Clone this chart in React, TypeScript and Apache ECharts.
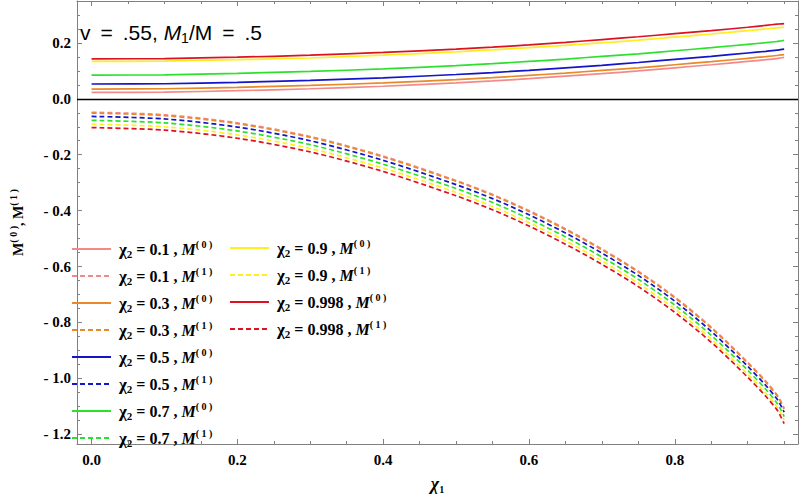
import React, { useEffect, useRef } from "react";
import * as echarts from "echarts";

// x values (chi_1)
const chi1 = [0, 0.1, 0.2, 0.3, 0.4, 0.5, 0.55, 0.6, 0.65, 0.7, 0.75, 0.8, 0.85, 0.9, 0.925, 0.94, 0.945, 0.95];

const chi2Labels = ["0.1", "0.3", "0.5", "0.7", "0.9", "0.998"];
const colors = ["#F28A8A", "#E8892A", "#1414C8", "#2EE02E", "#FFEE22", "#DD1122"];

// M^(0) (solid)
const m0_01 = [0.023, 0.024, 0.029, 0.036, 0.045, 0.057, 0.064, 0.072, 0.081, 0.090, 0.100, 0.111, 0.122, 0.134, 0.140, 0.144, 0.146, 0.148];
const m0_03 = [0.035, 0.036, 0.041, 0.048, 0.057, 0.069, 0.076, 0.084, 0.092, 0.102, 0.111, 0.122, 0.133, 0.145, 0.151, 0.155, 0.157, 0.158];
const m0_05 = [0.053, 0.054, 0.059, 0.066, 0.075, 0.087, 0.094, 0.102, 0.111, 0.120, 0.130, 0.141, 0.152, 0.164, 0.170, 0.174, 0.176, 0.178];
const m0_07 = [0.085, 0.086, 0.091, 0.098, 0.107, 0.119, 0.126, 0.134, 0.142, 0.152, 0.161, 0.172, 0.183, 0.195, 0.201, 0.205, 0.207, 0.209];
const m0_09 = [0.134, 0.135, 0.140, 0.146, 0.156, 0.168, 0.175, 0.183, 0.191, 0.200, 0.210, 0.221, 0.232, 0.244, 0.250, 0.254, 0.255, 0.256];
const m0_0998 = [0.143, 0.144, 0.149, 0.156, 0.166, 0.178, 0.185, 0.193, 0.202, 0.212, 0.222, 0.233, 0.244, 0.256, 0.263, 0.267, 0.268, 0.269];

// M^(1) (dashed)
const m1_01 = [-0.048, -0.057, -0.086, -0.135, -0.205, -0.292, -0.342, -0.400, -0.465, -0.537, -0.617, -0.709, -0.817, -0.942, -1.011, -1.058, -1.080, -1.107];
const m1_03 = [-0.051, -0.060, -0.089, -0.138, -0.208, -0.295, -0.345, -0.403, -0.468, -0.540, -0.620, -0.712, -0.820, -0.945, -1.014, -1.061, -1.083, -1.110];
const m1_05 = [-0.063, -0.072, -0.101, -0.150, -0.220, -0.307, -0.357, -0.415, -0.480, -0.552, -0.632, -0.724, -0.832, -0.957, -1.026, -1.073, -1.095, -1.121];
const m1_07 = [-0.077, -0.086, -0.115, -0.164, -0.234, -0.321, -0.371, -0.429, -0.494, -0.566, -0.646, -0.738, -0.846, -0.971, -1.040, -1.088, -1.110, -1.137];
const m1_09 = [-0.091, -0.100, -0.129, -0.178, -0.248, -0.335, -0.385, -0.443, -0.508, -0.580, -0.660, -0.752, -0.860, -0.985, -1.054, -1.101, -1.123, -1.150];
const m1_0998 = [-0.103, -0.112, -0.141, -0.190, -0.260, -0.347, -0.397, -0.455, -0.520, -0.592, -0.672, -0.764, -0.871, -0.996, -1.065, -1.112, -1.135, -1.162];

const m0Sets = [m0_01, m0_03, m0_05, m0_07, m0_09, m0_0998];
const m1Sets = [m1_01, m1_03, m1_05, m1_07, m1_09, m1_0998];

// ticks
const xMajor = [0, 0.2, 0.4, 0.6, 0.8];
const xMinor = [0.05, 0.1, 0.15, 0.25, 0.3, 0.35, 0.45, 0.5, 0.55, 0.65, 0.7, 0.75, 0.85, 0.9, 0.95];
const yMajor = [-1.2, -1.0, -0.8, -0.6, -0.4, -0.2, 0, 0.2];
const yMinor = [-1.15, -1.1, -1.05, -0.95, -0.9, -0.85, -0.75, -0.7, -0.65, -0.55, -0.5, -0.45, -0.35, -0.3, -0.25, -0.15, -0.1, -0.05, 0.05, 0.1, 0.15, 0.25, 0.3];

const X_MIN = -0.02;
const X_MAX = 0.969;
const Y_MIN = -1.235;
const Y_MAX = 0.35;

const SERIF = "'Liberation Serif', 'DejaVu Serif', serif";
const SANS = "'Liberation Sans', Arial, sans-serif";
const GRAY = "#808080";

function seriesName(i: number, k: number) {
  return "χ2 = " + chi2Labels[i] + " , M(" + k + ")";
}
function legendRich(name: string) {
  const m = name.match(/χ2 = ([0-9.]+) , M\((\d)\)/);
  if (!m) return name;
  return "{g|χ}{s|2}{t| = " + m[1] + " , }{m|M}{p|( " + m[2] + " )}";
}

const legendRichStyles = {
  g: { fontFamily: SERIF, fontWeight: "bold", fontSize: 17, lineHeight: 20, padding: [0, 0, 0, 3], color: "#000" },
  s: { fontFamily: SERIF, fontWeight: "bold", fontSize: 11, verticalAlign: "bottom", color: "#000" },
  t: { fontFamily: SERIF, fontWeight: "bold", fontSize: 16, lineHeight: 20, color: "#000" },
  m: { fontFamily: SERIF, fontWeight: "bold", fontStyle: "italic", fontSize: 16, lineHeight: 20, color: "#000" },
  p: { fontFamily: SERIF, fontWeight: "bold", fontSize: 10, verticalAlign: "top", color: "#000" },
};

function tickAxisCommon() {
  return {
    type: "value" as const,
    splitLine: { show: false },
    axisLine: { show: false, onZero: false },
    axisLabel: { show: false },
  };
}

export default function App() {
  const ref = useRef<HTMLDivElement>(null);
  useEffect(() => {
    if (!ref.current) return;
    const chart = echarts.init(ref.current, undefined, { renderer: "svg" });

    const series: any[] = [];
    for (let i = 0; i < 6; i++) {
      for (let k = 0; k < 2; k++) {
        const vals = k === 0 ? m0Sets[i] : m1Sets[i];
        series.push({
          type: "line",
          name: seriesName(i, k),
          xAxisIndex: 0,
          yAxisIndex: 0,
          data: chi1.map((x, j) => [x, vals[j]]),
          smooth: 0.3,
          symbol: "none",
          lineStyle: {
            color: colors[i],
            width: 1.7,
            type: k === 0 ? "solid" : [5, 3],
          },
          itemStyle: { color: colors[i] },
          z: 3,
        });
      }
    }
    series[0].markLine = {
      silent: true,
      symbol: ["none", "none"],
      label: { show: false },
      lineStyle: { color: "#000", width: 1.3, type: "solid" },
      data: [{ yAxis: 0 }],
      z: 2,
    };

    const names = series.map((s) => s.name);

    const legendCommon = {
      orient: "vertical",
      padding: 0,
      itemWidth: 39,
      itemHeight: 14,
      itemGap: 7,
      selectedMode: false,
      formatter: legendRich,
      itemStyle: { opacity: 0 },
      textStyle: { rich: legendRichStyles, color: "#000" },
    };

    const option: any = {
      animation: false,
      backgroundColor: "#fff",
      grid: { left: 61, right: 2, top: 1, bottom: 43, containLabel: false },
      xAxis: [
        {
          type: "value",
          min: X_MIN,
          max: X_MAX,
          position: "bottom",
          splitLine: { show: false },
          axisLine: { show: true, onZero: false, lineStyle: { color: GRAY, width: 1 } },
          axisTick: { show: true, inside: true, length: 5, customValues: xMajor, lineStyle: { color: GRAY } },
          axisLabel: {
            show: true,
            customValues: xMajor,
            margin: 8,
            formatter: (v: number) => v.toFixed(1),
            fontFamily: SERIF,
            fontWeight: "bold",
            fontSize: 15,
            color: "#000",
          },
          name: "{c|χ}{s|1}",
          nameLocation: "middle",
          nameGap: 30,
          nameTextStyle: {
            rich: {
              c: { fontFamily: SERIF, fontWeight: "bold", fontStyle: "italic", fontSize: 18, lineHeight: 20, color: "#000" },
              s: { fontFamily: SERIF, fontWeight: "bold", fontSize: 10, verticalAlign: "bottom", color: "#000" },
            },
          },
        },
        {
          ...tickAxisCommon(),
          min: X_MIN,
          max: X_MAX,
          position: "bottom",
          axisTick: { show: true, inside: true, length: 3, customValues: xMinor, lineStyle: { color: GRAY } },
        },
        {
          type: "value",
          min: X_MIN,
          max: X_MAX,
          position: "top",
          splitLine: { show: false },
          axisLine: { show: true, onZero: false, lineStyle: { color: GRAY, width: 1 } },
          axisTick: { show: true, inside: true, length: 5, customValues: xMajor, lineStyle: { color: GRAY } },
          axisLabel: { show: false },
        },
        {
          ...tickAxisCommon(),
          min: X_MIN,
          max: X_MAX,
          position: "top",
          axisTick: { show: true, inside: true, length: 3, customValues: xMinor, lineStyle: { color: GRAY } },
        },
      ],
      yAxis: [
        {
          type: "value",
          min: Y_MIN,
          max: Y_MAX,
          position: "left",
          splitLine: { show: false },
          axisLine: { show: true, onZero: false, lineStyle: { color: GRAY, width: 1 } },
          axisTick: { show: true, inside: true, length: 5, customValues: yMajor, lineStyle: { color: GRAY } },
          axisLabel: {
            show: true,
            customValues: yMajor,
            margin: 6,
            formatter: (v: number) => (Math.abs(v) < 1e-9 ? "0.0" : v < 0 ? "- " + (-v).toFixed(1) : v.toFixed(1)),
            fontFamily: SERIF,
            fontWeight: "bold",
            fontSize: 15,
            color: "#000",
          },
          name: "{b|M}{p|( 0 )}{b|, M}{p|( 1 )}",
          nameLocation: "middle",
          nameGap: 49,
          nameTextStyle: {
            rich: {
              b: { fontFamily: SERIF, fontWeight: "bold", fontSize: 14, lineHeight: 20, color: "#000" },
              p: { fontFamily: SERIF, fontWeight: "bold", fontSize: 10, verticalAlign: "top", color: "#000" },
            },
          },
        },
        {
          ...tickAxisCommon(),
          min: Y_MIN,
          max: Y_MAX,
          position: "left",
          axisTick: { show: true, inside: true, length: 3, customValues: yMinor, lineStyle: { color: GRAY } },
        },
        {
          type: "value",
          min: Y_MIN,
          max: Y_MAX,
          position: "right",
          splitLine: { show: false },
          axisLine: { show: true, onZero: false, lineStyle: { color: GRAY, width: 1 } },
          axisTick: { show: true, inside: true, length: 5, customValues: yMajor, lineStyle: { color: GRAY } },
          axisLabel: { show: false },
        },
        {
          ...tickAxisCommon(),
          min: Y_MIN,
          max: Y_MAX,
          position: "right",
          axisTick: { show: true, inside: true, length: 3, customValues: yMinor, lineStyle: { color: GRAY } },
        },
      ],
      legend: [
        { ...legendCommon, data: names.slice(0, 8), left: 71, top: 239 },
        { ...legendCommon, data: names.slice(8, 12), left: 229, top: 238 },
      ],
      graphic: [
        {
          type: "text",
          x: 80,
          y: 32,
          z: 10,
          style: {
            text: "{a|v}{q|=}{a|.55, }{i|M}{s|1}{a|/M}{q|=}{a|.5}",
            verticalAlign: "middle",
            align: "left",
            rich: {
              a: { fontFamily: SANS, fontSize: 21, lineHeight: 26, color: "#000" },
              q: { fontFamily: SANS, fontSize: 21, lineHeight: 26, color: "#000", padding: [0, 10, 0, 10] },
              i: { fontFamily: SANS, fontStyle: "italic", fontSize: 21, lineHeight: 26, color: "#000" },
              s: { fontFamily: SANS, fontSize: 14, verticalAlign: "bottom", color: "#000" },
            },
          },
        },
      ],
      series,
    };

    chart.setOption(option);
    return () => {
      chart.dispose();
    };
  }, []);

  return (
    <div
      ref={ref}
      style={{ position: "absolute", left: 0, top: 0, width: 800, height: 499, background: "#fff" }}
    />
  );
}
